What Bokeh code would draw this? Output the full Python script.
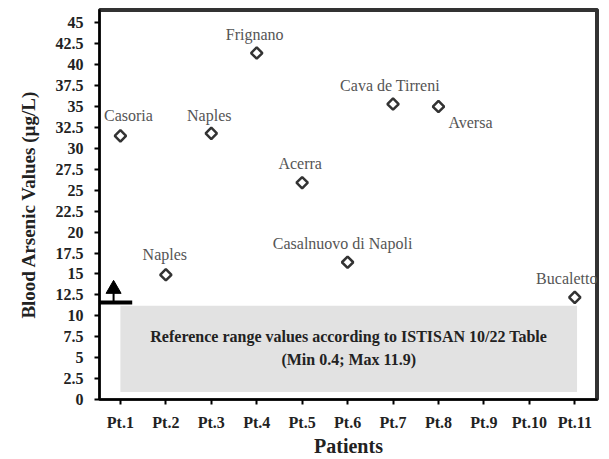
from bokeh.plotting import figure
from bokeh.models import ColumnDataSource, LabelSet, Label, FixedTicker
from bokeh.embed import file_html
from bokeh.resources import INLINE

# Blood arsenic per patient (µg/L) and the town each patient lives in
patients = [1, 2, 3, 4, 5, 6, 7, 8, 11]
arsenic = [31.5, 14.9, 31.8, 41.4, 25.9, 16.4, 35.3, 35.0, 12.2]
towns = ["Casoria", "Naples", "Naples", "Frignano", "Acerra",
         "Casalnuovo di Napoli", "Cava de Tirreni", "Aversa", "Bucaletto"]

# Axis ticks
x_ticks = list(range(1, 12))
x_tick_labels = ["Pt.%d" % i for i in x_ticks]
y_ticks = [i * 2.5 for i in range(19)]
y_tick_labels = [("%g" % v) for v in y_ticks]

# Reference range (ISTISAN 10/22) and the shaded band behind it
ref_min, ref_max = 0.4, 11.9
band_bottom, band_top = 0.9, 11.2
band_left, band_right = 1.0, 11.05
threshold = 11.6
arrow_x, arrow_stem_top, arrow_head = 0.85, 13.0, 13.2

SERIF = "Liberation Serif"
X0, X1, Y0, Y1 = 0.54, 11.5, 0, 46.6

p = figure(width=609, height=459, x_range=(X0, X1), y_range=(Y0, Y1),
           output_backend="svg", toolbar_location=None,
           min_border_left=99, min_border_right=12,
           min_border_top=9, min_border_bottom=59)
p.xgrid.visible = False
p.ygrid.visible = False
p.outline_line_color = "#333333"
p.outline_line_width = 3

# top and right edges of the plot box, as thin filled strips
p.quad(left=[X0, X1 - 0.055], right=[X1, X1], bottom=[Y1 - 0.3, Y0], top=[Y1, Y1],
       fill_color="#333333", line_color=None)

# shaded reference band
p.quad(left=[band_left], right=[band_right], bottom=[band_bottom], top=[band_top],
       fill_color="#e2e2e2", line_color=None)

p.add_layout(Label(x=(band_left + band_right) / 2, y=7.5,
                   text="Reference range values according to ISTISAN 10/22 Table",
                   text_font=SERIF, text_font_style="bold", text_font_size="16px",
                   text_align="center", text_baseline="middle", text_color="#222222"))
p.add_layout(Label(x=(band_left + band_right) / 2, y=4.8,
                   text="(Min %g; Max %g)" % (ref_min, ref_max),
                   text_font=SERIF, text_font_style="bold", text_font_size="16px",
                   text_align="center", text_baseline="middle", text_color="#222222"))

# threshold bar with upward arrow
p.segment(x0=[X0], y0=[threshold], x1=[1.26], y1=[threshold],
          line_color="black", line_width=4)
p.segment(x0=[arrow_x], y0=[threshold], x1=[arrow_x], y1=[arrow_stem_top],
          line_color="black", line_width=2)
p.scatter(x=[arrow_x], y=[arrow_head], marker="triangle", size=15,
          fill_color="black", line_color="black")

# patient points
src = ColumnDataSource(dict(
    x=patients, y=arsenic, town=towns,
    dx=[8, -1, -2, -2, -2, -5, -3, 32, -8],
    dy=[20, 20, 18, 19, 19, 19, 19, -16, 19],
))
p.scatter("x", "y", source=src, marker="square", angle=0.785398, size=8,
          fill_color="white", line_color="#333333", line_width=2.5)
p.add_layout(LabelSet(x="x", y="y", text="town", x_offset="dx", y_offset="dy",
                      source=src, text_font=SERIF, text_font_size="16px",
                      text_color="#555555", text_align="center",
                      text_baseline="middle"))

# axes
p.xaxis.ticker = FixedTicker(ticks=x_ticks)
p.xaxis.major_label_overrides = dict(zip(x_ticks, x_tick_labels))
p.yaxis.ticker = FixedTicker(ticks=y_ticks)
p.yaxis.major_label_overrides = dict(zip(y_ticks, y_tick_labels))
for ax in (p.xaxis, p.yaxis):
    ax.axis_line_width = 2
    ax.axis_line_color = "black"
    ax.major_tick_line_width = 2
    ax.major_tick_line_color = "black"
    ax.major_tick_out = 5
    ax.major_tick_in = 0
    ax.minor_tick_line_color = None
    ax.major_label_text_font = SERIF
    ax.major_label_text_font_style = "bold"
    ax.major_label_text_font_size = "16px"
    ax.major_label_text_color = "#222222"
    ax.axis_label_text_font = SERIF
    ax.axis_label_text_font_style = "bold"
    ax.axis_label_text_color = "#222222"

p.xaxis.axis_label_text_font_size = "20px"
p.yaxis.axis_label_text_font_size = "19px"
p.xaxis.axis_label = "Patients"
p.yaxis.axis_label = "Blood Arsenic Values (µg/L)"
p.xaxis.major_label_standoff = 9
p.xaxis.axis_label_standoff = 1
p.yaxis.major_label_standoff = 11
p.yaxis.axis_label_standoff = 14

open("out.html", "w").write(file_html(p, INLINE))
